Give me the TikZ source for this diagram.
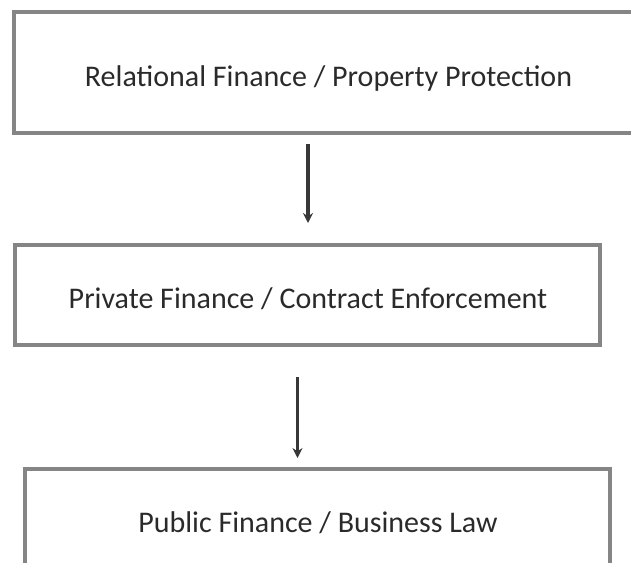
\documentclass[tikz,border=0pt]{standalone}
\usepackage{fontspec}
\setmainfont{Carlito}
\usetikzlibrary{arrows.meta}
\definecolor{boxgray}{HTML}{858585}
\definecolor{txt}{HTML}{2A2A2A}
\tikzset{
  stagebox/.style={draw=boxgray, line width=3.2pt, fill=none, inner sep=0pt},
  stagetext/.style={anchor=base, text=txt, inner sep=0pt, font=\fontsize{30}{36}\selectfont},
  flow/.style={draw=black!78, line width=3.2pt, -{Stealth[length=10pt,width=10pt]}}
}
\begin{document}
\begin{tikzpicture}[x=1pt,y=-1pt]
\useasboundingbox (0,0) rectangle (631,562);
\clip (0,0) rectangle (631,562);
% boxes
\node[stagebox, minimum width=626pt, minimum height=121pt] (b1) at (327,72.5) {};
\node[stagebox, minimum width=585pt, minimum height=100pt] (b2) at (307.5,295) {};
\node[stagebox, minimum width=585pt, minimum height=200pt] (b3) at (317.5,569) {};
% texts
\node[stagetext] (t1) at (328.5,86) {Relational Finance / Property Protection};
\node[stagetext] (t2) at (308,308) {Private Finance / Contract Enforcement};
\node[stagetext] (t3) at (318,532) {Public Finance / Business Law};
% arrow ends
\coordinate (a1s) at (308,144);
\coordinate (a1e) at (308,223);
\coordinate (a2s) at (297.5,377);
\coordinate (a2e) at (297.5,458);
\draw[flow] (a1s) -- (a1e);
\draw[flow] (a2s) -- (a2e);
\end{tikzpicture}
\end{document}
